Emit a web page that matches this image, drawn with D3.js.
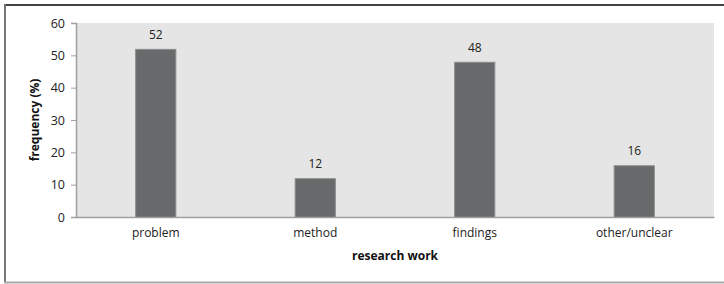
<!DOCTYPE html>
<html>
<head>
<meta charset="utf-8">
<script src="https://cdn.jsdelivr.net/npm/d3@7.9.0/dist/d3.min.js"></script>
<style>
  body { margin: 0; background: #fff; }
  svg { display: block; font-family: "Open Sans", "Noto Sans", sans-serif; }
</style>
</head>
<body>
<div id="chart"></div>
<script>
const categories = ['problem', 'method', 'findings', 'other/unclear'];
const frequency = [52, 12, 48, 16];
const yTicks = [0, 10, 20, 30, 40, 50, 60];

const width = 724;
const height = 284;
const margin = { top: 23, right: 10, bottom: 67, left: 76 };

const svg = d3.select('#chart')
  .append('svg')
  .attr('width', width)
  .attr('height', height);

// outer frame
svg.append('line').attr('x1', 5).attr('x2', width).attr('y1', 5).attr('y2', 5)
  .attr('stroke', '#444').attr('stroke-width', 2);
svg.append('line').attr('x1', 5).attr('x2', 5).attr('y1', 4).attr('y2', 283)
  .attr('stroke', '#777').attr('stroke-width', 2);
svg.append('line').attr('x1', 4).attr('x2', width).attr('y1', 282.5).attr('y2', 282.5)
  .attr('stroke', '#aaa').attr('stroke-width', 2);

const x = d3.scaleBand()
  .domain(categories)
  .range([margin.left, width - margin.right])
  .paddingInner(0.742)
  .paddingOuter(0.371);

const y = d3.scaleLinear()
  .domain([0, 60])
  .range([height - margin.bottom, margin.top]);

// plot background
svg.append('rect')
  .attr('x', margin.left)
  .attr('y', y(60))
  .attr('width', width - margin.right - margin.left)
  .attr('height', y(0) - y(60))
  .attr('fill', '#e4e5e4');

// bars
svg.append('g')
  .selectAll('rect')
  .data(categories)
  .join('rect')
  .attr('x', d => x(d) + 0.5)
  .attr('y', (d, i) => y(frequency[i]) + 0.5)
  .attr('width', x.bandwidth() - 1)
  .attr('height', (d, i) => y(0) - y(frequency[i]))
  .attr('fill', '#676a6a')
  .attr('stroke', '#8a8c8c')
  .attr('stroke-width', 1);

// value labels
svg.append('g')
  .selectAll('text')
  .data(categories)
  .join('text')
  .attr('x', d => x(d) + x.bandwidth() / 2)
  .attr('y', (d, i) => y(frequency[i]) - 10)
  .attr('text-anchor', 'middle')
  .attr('font-size', 12)
  .attr('fill', '#222')
  .text((d, i) => frequency[i]);

// y axis
const yAxis = svg.append('g')
  .attr('transform', `translate(${margin.left}, 0)`)
  .call(d3.axisLeft(y).tickValues(yTicks).tickSize(5).tickPadding(6));
yAxis.select('.domain').attr('stroke', '#a0a0a0').attr('stroke-width', 1.5);
yAxis.selectAll('.tick line').attr('stroke', '#a0a0a0');
yAxis.selectAll('text').attr('font-size', 12.5).attr('fill', '#222')
  .attr('font-family', '"Open Sans", sans-serif');

// x axis
const xAxis = svg.append('g')
  .attr('transform', `translate(0, ${y(0)})`)
  .call(d3.axisBottom(x).tickSize(0).tickPadding(11));
xAxis.select('.domain').attr('stroke', '#a0a0a0').attr('stroke-width', 1.5);
xAxis.selectAll('text').attr('font-size', 12).attr('fill', '#222')
  .attr('font-family', '"Open Sans", sans-serif');

// axis titles
svg.append('text')
  .attr('x', (margin.left + width - margin.right) / 2)
  .attr('y', 260)
  .attr('text-anchor', 'middle')
  .attr('font-size', 12)
  .attr('font-weight', 'bold')
  .attr('fill', '#111')
  .text('research work');

svg.append('text')
  .attr('transform', `translate(39, ${(y(0) + y(60)) / 2}) rotate(-90)`)
  .attr('text-anchor', 'middle')
  .attr('font-size', 12)
  .attr('font-weight', 'bold')
  .attr('fill', '#111')
  .text('frequency (%)');
</script>
</body>
</html>
